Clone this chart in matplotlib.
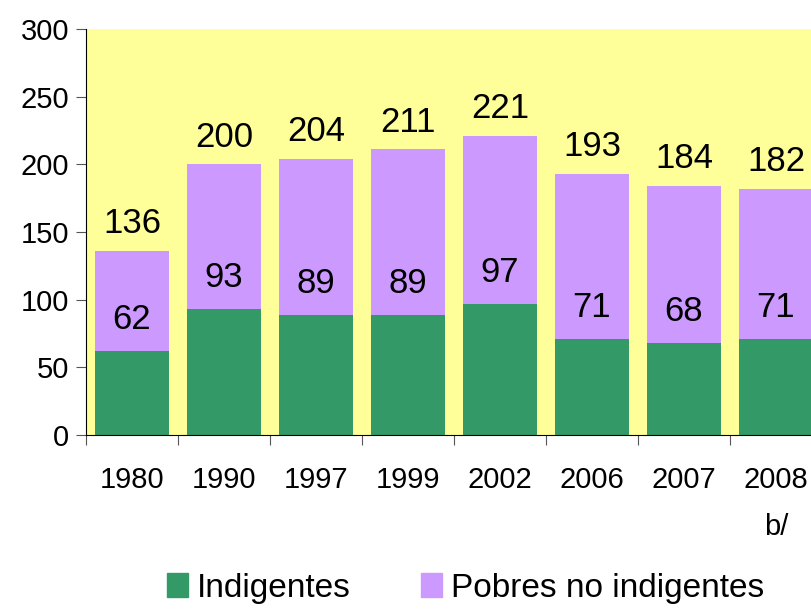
import matplotlib
matplotlib.use("Agg")
import matplotlib.pyplot as plt
from matplotlib.patches import Patch

# datos (millones de personas)
anios = ["1980", "1990", "1997", "1999", "2002", "2006", "2007", "2008\nb/"]
indigentes = [62, 93, 89, 89, 97, 71, 68, 71]
totales = [136, 200, 204, 211, 221, 193, 184, 182]
pobres_no_ind = [t - i for t, i in zip(totales, indigentes)]

verde = "#339966"
lila = "#CC99FF"
amarillo = "#FFFF99"

plt.rcParams["font.family"] = ["Liberation Sans", "DejaVu Sans"]
fs_tick = 21
fs_val = 25
fs_leg = 24

fig = plt.figure(figsize=(8.12, 6.09), dpi=100)
ax = fig.add_axes([86 / 812, 1 - 435 / 609, 736 / 812, 406 / 609])
ax.set_facecolor(amarillo)

x = range(len(anios))
ax.bar(x, indigentes, width=0.8, color=verde, zorder=2)
ax.bar(x, pobres_no_ind, width=0.8, bottom=indigentes, color=lila, zorder=2)

for xi, ind, tot in zip(x, indigentes, totales):
    ax.annotate(str(tot), (xi, tot), xytext=(0, 19.5), textcoords="offset points",
                ha="center", va="center", fontsize=fs_val)
    ax.annotate(str(ind), (xi, ind), xytext=(0, 22.5), textcoords="offset points",
                ha="center", va="center", fontsize=fs_val)

ax.set_xlim(-0.5, len(anios) - 0.5)
ax.set_ylim(0, 300)
ax.set_yticks(range(0, 301, 50))
ax.tick_params(axis="y", labelsize=fs_tick, length=7, color="#555555", pad=5)

# etiquetas centradas, marcas entre categorias
ax.set_xticks([i + 0.5 for i in range(-1, len(anios))])
ax.set_xticklabels([])
ax.tick_params(axis="x", length=7, color="#555555")
for xi, lab in zip(x, anios):
    ax.text(xi, -23, lab, ha="center", va="top", fontsize=fs_tick,
            linespacing=1.85, clip_on=False)

for s in ["top", "right"]:
    ax.spines[s].set_visible(False)
ax.spines["left"].set_color("black")
ax.spines["bottom"].set_color("black")

handles = [Patch(color=verde, label="Indigentes"),
           Patch(color=lila, label="Pobres no indigentes")]
fig.legend(handles=handles, loc="upper left", bbox_to_anchor=(167 / 812, 1 - 573 / 609),
           ncol=2, frameon=False, fontsize=fs_leg, handlelength=0.63, handleheight=0.72,
           handletextpad=0.27, columnspacing=2.1, borderpad=0, borderaxespad=0)

fig.savefig("out.png", dpi=100)
plt.close()
